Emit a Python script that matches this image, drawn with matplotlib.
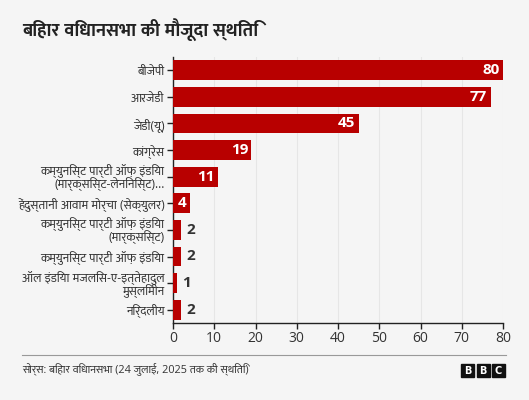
import matplotlib
matplotlib.use("Agg")
import matplotlib.pyplot as plt
from matplotlib import font_manager
from matplotlib.patches import Rectangle
from matplotlib.lines import Line2D

# ---- data ----
parties = [
    "बीजेपी",
    "आरजेडी",
    "जेडी(यू)",
    "कांग्रेस",
    "कम्युनिस्ट पार्टी ऑफ़ इंडिया\n(मार्क्सिस्ट-लेनिनिस्ट)...",
    "हेंदुस्तानी आवाम मोर्चा (सेक्युलर)",
    "कम्युनिस्ट पार्टी ऑफ़ इंडिया\n(मार्क्सिस्ट)",
    "कम्युनिस्ट पार्टी ऑफ़ इंडिया",
    "ऑल इंडिया मजलिस-ए-इत्तेहादुल\nमुस्लिमीन",
    "निर्दलीय",
]
seats = [80, 77, 45, 19, 11, 4, 2, 2, 1, 2]
xticks = [0, 10, 20, 30, 40, 50, 60, 70, 80]
title = "बिहार विधानसभा की मौजूदा स्थिति"
source = "सोर्स: बिहार विधानसभा (24 जुलाई, 2025 तक की स्थिति)"

# ---- fonts ----
weights = {}
deva_c = []
try:
    from matplotlib.ft2font import FT2Font
    for f in font_manager.fontManager.ttflist:
        w = f.weight if isinstance(f.weight, int) else 400
        weights.setdefault(f.name, set()).add(w)
        try:
            if f.name not in deva_c and 0x0915 in FT2Font(f.fname).get_charmap():
                deva_c.append(f.name)
        except Exception:
            pass
except Exception:
    pass

def has_bold(n):
    return any(w >= 600 for w in weights.get(n, ()))

pref = ["Noto Sans Devanagari", "Mukta", "Ek Mukta", "Hind", "Poppins",
        "Amiko", "Arya", "Biryani", "FreeSans"]
deva = None
for p in pref:
    if p in deva_c and has_bold(p):
        deva = p
        break
if deva is None:
    for p in pref:
        if p in deva_c:
            deva = p
            break
if deva is None:
    for c in deva_c:
        if "Mono" not in c:
            deva = c
            break

latin = "Noto Sans"
for n in ["Noto Sans", "Open Sans", "Roboto", "Lato", "DejaVu Sans"]:
    if has_bold(n):
        latin = n
        break
family = [latin] + ([deva] if deva else []) + ["DejaVu Sans"]
plt.rcParams["font.family"] = family

BG = "#f5f5f5"
RED = "#b80000"
DARK = "#222222"
TXT = "#333333"

fig = plt.figure(figsize=(5.29, 4.0), dpi=100, facecolor=BG)
W, H = 529, 400
ax = fig.add_axes([173 / W, 1 - 323 / H, (503 - 173) / W, (323 - 57) / H])
ax.set_facecolor(BG)

y = list(range(len(parties)))
ax.barh(y, seats, height=0.75, color=RED, zorder=3)
ax.set_ylim(len(parties) - 0.5, -0.5)
ax.set_xlim(0, 80)
ax.set_xticks(xticks)
ax.set_xticklabels([str(t) for t in xticks], fontsize=10, color=TXT)
ax.set_yticks(y)
ylabs = ax.set_yticklabels(parties, fontsize=9, color=TXT, linespacing=0.9)
ax.tick_params(axis="y", length=4, width=1, color=DARK, pad=2)
ax.tick_params(axis="x", length=4, width=1, color=DARK, pad=2)
ax.xaxis.grid(True, color="#e6e6e6", linewidth=0.8, zorder=0)
for s in ["top", "right"]:
    ax.spines[s].set_visible(False)
for s in ["left", "bottom"]:
    ax.spines[s].set_color(DARK)
    ax.spines[s].set_linewidth(1)

for yi, v in zip(y, seats):
    if v >= 4:
        ax.text(v - 0.8, yi, str(v), ha="right", va="center", color="white",
                fontsize=11, fontweight="bold", zorder=4)
    else:
        ax.text(v + 1.3, yi, str(v), ha="left", va="center", color=TXT,
                fontsize=11, fontweight="bold", zorder=4)

fig.text(22 / W, 1 - 30 / H, title, fontsize=13.2, fontweight="bold",
         color="#222222", ha="left", va="center")

fig.add_artist(Line2D([22 / W, 506 / W], [1 - 355 / H, 1 - 355 / H],
                      color="#999999", linewidth=0.8, transform=fig.transFigure))
fig.text(22 / W, 1 - 369 / H, source, fontsize=7.8, color=TXT,
         ha="left", va="center")

for i, ch in enumerate("BBC"):
    x0 = 461 + i * 15.5
    fig.add_artist(Rectangle((x0 / W, 1 - 377 / H), 13 / W, 13 / H,
                             transform=fig.transFigure, color="#111111"))
    fig.text((x0 + 6.5) / W, 1 - 370.5 / H, ch, color="white", fontsize=7,
             fontweight="bold", ha="center", va="center", family="DejaVu Sans")

# shrink y labels if any would run past the left edge (x = 22 px)
fig.canvas.draw()
r = fig.canvas.get_renderer()
minx = min(t.get_window_extent(r).x0 for t in ylabs)
if minx < 20:
    avail = 173 - 6 - 22
    widest = max(t.get_window_extent(r).width for t in ylabs)
    fs = 9 * avail / widest
    for t in ylabs:
        t.set_fontsize(fs)

fig.savefig("out.png", dpi=100, facecolor=BG)
